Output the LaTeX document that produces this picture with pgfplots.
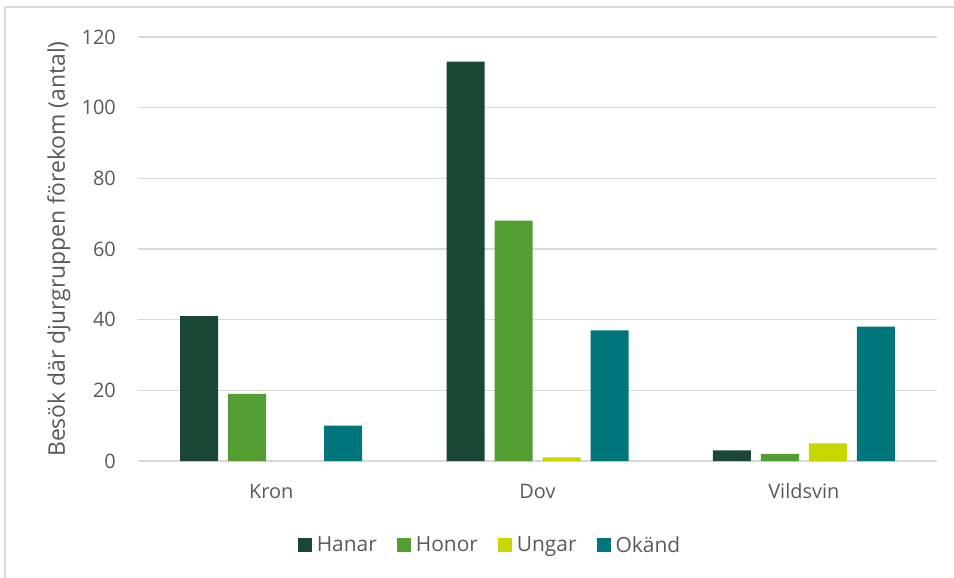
\documentclass[border=0pt]{standalone}
\usepackage{pgfplots}
\pgfplotsset{compat=1.18}
\usepackage{fontspec}
\setmainfont{Open Sans}

\definecolor{hanar}{HTML}{1A4734}
\definecolor{honor}{HTML}{529E32}
\definecolor{ungar}{HTML}{C8D600}
\definecolor{okand}{HTML}{00757C}
\definecolor{textgray}{HTML}{595959}
\definecolor{gridgray}{HTML}{D9D9D9}

\begin{document}
\begin{tikzpicture}
% page frame and chart-area outline
\useasboundingbox (-138bp,-117bp) rectangle (816bp,461bp);
\draw[gridgray, line width=1.5bp] (-133bp,-130bp) -- (-133bp,454bp) -- (830bp,454bp);

\begin{axis}[
  at={(0bp,0bp)}, anchor=south west,
  scale only axis, width=799bp, height=424bp,
  xmin=-0.5, xmax=2.5, ymin=0, ymax=120,
  xtick={0,1,2}, xticklabels={Kron,Dov,Vildsvin},
  ytick={0,20,...,120},
  major tick length=0pt,
  axis line style={draw=none},
  ymajorgrids, grid style={gridgray, line width=1.5bp},
  /pgf/number format/assume math mode=true,
  tick label style={font=\fontsize{20}{24}\selectfont, text=textgray, inner sep=0pt},
  yticklabel style={anchor=east, xshift=-22bp},
  xticklabel style={anchor=base, yshift=-37bp},
  ybar=10bp, bar width=38bp,
  legend columns=4,
  legend style={at={(axis description cs:0.4405,-0.198)}, anchor=center,
    draw=none, fill=none, font=\fontsize{21}{25}\selectfont, text=textgray,
    /tikz/every even column/.append style={column sep=18bp}},
  legend image code/.code={\fill[#1] (0bp,-7bp) rectangle (14bp,7bp);
    \path (14bp,0bp) -- (17bp,0bp);},
]
\addplot[fill=hanar, draw=none] coordinates {(0,41) (1,113) (2,3)};
\addplot[fill=honor, draw=none] coordinates {(0,19) (1,68) (2,2)};
\addplot[fill=ungar, draw=none] coordinates {(0,0) (1,1) (2,5)};
\addplot[fill=okand, draw=none] coordinates {(0,10) (1,37) (2,38)};
\legend{Hanar,Honor,Ungar,Okänd}
\end{axis}

\node[rotate=90, anchor=base, font=\fontsize{23}{27}\selectfont, text=textgray]
  at (-73bp,212bp) {Besök där djurgruppen förekom (antal)};
\end{tikzpicture}
\end{document}
